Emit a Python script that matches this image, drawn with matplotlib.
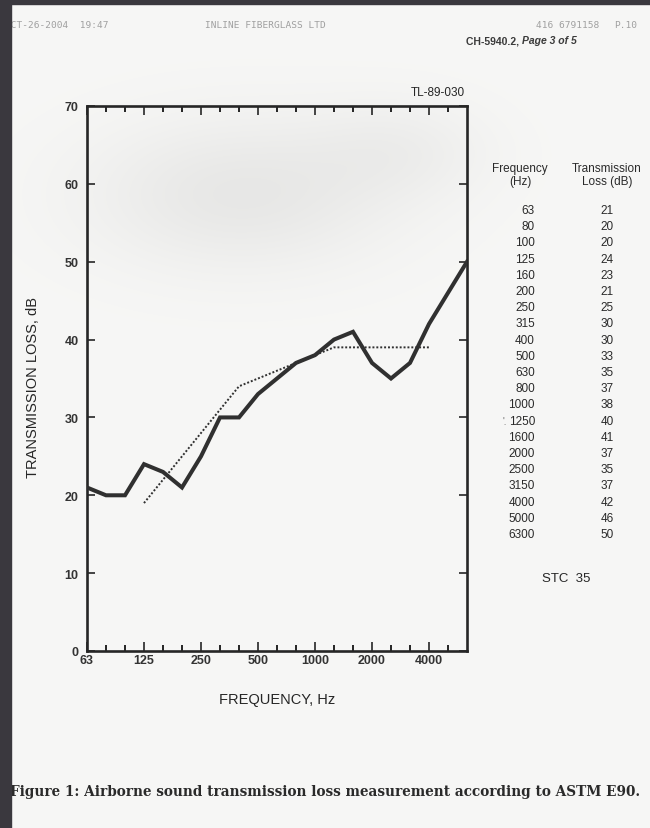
import numpy as np
import matplotlib.pyplot as plt
from matplotlib.patches import Rectangle

# one-third octave bands and measured transmission loss (table on the page)
freq_bands = ['63', '80', '100', '125', '160', '200', '250', '315', '400', '500',
              '630', '800', '1000', '1250', '1600', '2000', '2500', '3150',
              '4000', '5000', '6300']
tl_db = [21, 20, 20, 24, 23, 21, 25, 30, 30, 33, 35, 37, 38, 40, 41, 37, 35,
         37, 42, 46, 50]

# STC 35 reference contour, 125 Hz .. 4000 Hz
stc_first, stc_last = 3, 18
stc_contour = [19, 22, 25, 28, 31, 34, 35, 36, 37, 38, 39, 39, 39, 39, 39, 39]

x_tick_pos = [0, 3, 6, 9, 12, 15, 18]
x_tick_labels = ['63', '125', '250', '500', '1000', '2000', '4000']

W, H = 650, 829
ink = '#262626'
plt.rcParams['font.family'] = ['Liberation Sans', 'DejaVu Sans']

fig = plt.figure(figsize=(W / 100, H / 100), dpi=100)

# %% scanned page background (off-white paper with a faint grey cloud)
bg = fig.add_axes([0, 0, 1, 1], zorder=-5)
yy, xx = np.mgrid[0:H, 0:W]
shade = 0.968 - 0.06 * np.exp(-(((xx - 240) / 150.0) ** 2 + ((yy - 195) / 75.0) ** 2))
shade -= 0.03 * np.exp(-(((xx - 400) / 90.0) ** 2 + ((yy - 150) / 50.0) ** 2))
page = np.dstack([shade, shade, shade * 0.995])
bg.imshow(page, extent=[0, W, H, 0], aspect='auto')
bg.set_axis_off()

# %% the chart
ax = fig.add_axes([87 / W, 1 - 652 / H, (467 - 87) / W, (652 - 107) / H])
ax.patch.set_alpha(0)

x = np.arange(len(freq_bands))
ax.plot(x, tl_db, color='#303030', lw=2.9, solid_joinstyle='miter', zorder=3)
ax.plot(np.arange(stc_first, stc_last + 1), stc_contour, color='#303030',
        lw=1.4, ls=(0, (1, 1)), zorder=3)

ax.set_xlim(0, len(freq_bands) - 1)
ax.set_ylim(0, 70)

for s in ax.spines.values():
    s.set_linewidth(1.9)
    s.set_color(ink)

ax.set_xticks(x_tick_pos)
ax.set_xticklabels(x_tick_labels)
ax.set_xticks(np.arange(1, 20), minor=True)
ax.set_yticks(np.arange(0, 71, 10))
ax.tick_params(axis='x', which='major', direction='in', length=6.5, width=1.2,
               top=True, bottom=True, pad=2, labelsize=9, colors=ink)
ax.tick_params(axis='x', which='minor', direction='in', length=4.2, width=1.2,
               top=True, bottom=True)
ax.tick_params(axis='y', direction='in', length=6, width=1.2, left=True,
               right=True, pad=6, labelsize=9, colors=ink)
for lab in ax.get_xticklabels() + ax.get_yticklabels():
    lab.set_fontweight('bold')
    lab.set_color('#333333')

ax.set_xlabel('FREQUENCY, Hz', fontsize=10.5, color=ink, labelpad=19)
fig.text(33 / W, 1 - 388 / H, 'TRANSMISSION LOSS, dB', rotation=90,
         ha='center', va='center', fontsize=10.5, color=ink)
fig.text(465 / W, 1 - 93 / H, 'TL-89-030', ha='right', va='center',
         fontsize=8.5, color=ink)

# %% data table to the right
tab = dict(va='center', fontsize=8.5, color='#2a2a2a')
fig.text(520 / W, 1 - 169 / H, 'Frequency', ha='center', **tab)
fig.text(520 / W, 1 - 182 / H, '(Hz)', ha='center', **tab)
fig.text(607 / W, 1 - 169 / H, 'Transmission', ha='center', **tab)
fig.text(607 / W, 1 - 182 / H, 'Loss (dB)', ha='center', **tab)
row0, row_step = 211, 16.2
for i, (f, tl) in enumerate(zip(freq_bands, tl_db)):
    yrow = 1 - (row0 + i * row_step) / H
    fig.text(535 / W, yrow, f, ha='right', **tab)
    fig.text(607 / W, yrow, str(tl), ha='center', **tab)
fig.text(505 / W, 1 - (row0 + 13 * row_step) / H, "'.", ha='center', va='center',
         fontsize=7, color='#666666')
fig.text(566 / W, 1 - 579 / H, 'STC  35', ha='center', va='center', fontsize=9.5,
         color=ink)

# %% fax header and caption
hdr = dict(family='DejaVu Sans Mono', fontsize=6.8, color='#a0a0a0', va='center')
fig.text(5 / W, 1 - 25 / H, 'OCT-26-2004  19:47', ha='left', **hdr)
fig.text(205 / W, 1 - 25 / H, 'INLINE FIBERGLASS LTD', ha='left', **hdr)
fig.text(536 / W, 1 - 25 / H, '416 6791158', ha='left', **hdr)
fig.text(614 / W, 1 - 25 / H, 'P.10', ha='left', **hdr)
fig.text(466 / W, 1 - 41 / H, 'CH-5940.2, ', ha='left', va='center', fontsize=7.5,
         fontweight='bold', color='#3a3a3a')
fig.text(522 / W, 1 - 41 / H, 'Page 3 of 5', ha='left', va='center', fontsize=7.5,
         fontweight='bold', style='italic', color='#3a3a3a')

fig.text(10 / W, 1 - 792 / H,
         'Figure 1: Airborne sound transmission loss measurement according to ASTM E90.',
         ha='left', va='center', family=['DejaVu Serif'],
         fontsize=9.8, fontweight='bold', color='#2a2a2a')

# dark scanner border on the left and the top
fig.patches.append(Rectangle((0, 0), 11 / W, 1, transform=fig.transFigure,
                             color='#3a383e', zorder=20))
fig.patches.append(Rectangle((0, 1 - 5 / H), 1, 5 / H, transform=fig.transFigure,
                             color='#3a383e', zorder=20))

fig.savefig('out.png', dpi=100)
